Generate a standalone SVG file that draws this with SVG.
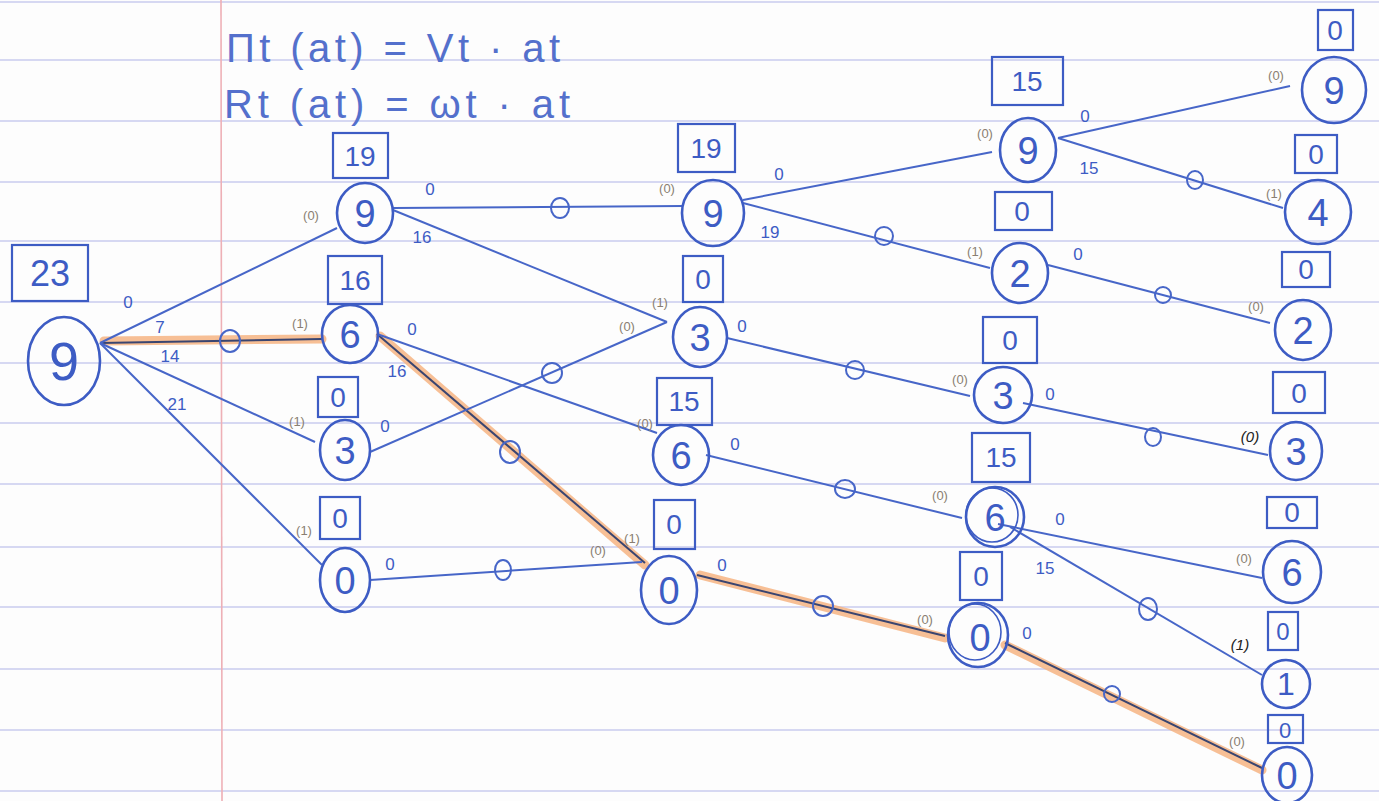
<svg xmlns="http://www.w3.org/2000/svg" width="1379" height="801" viewBox="0 0 1379 801">
<style>
.paper{stroke:#c9cbee;stroke-width:1.6}
.margin{stroke:#eeb0b6;stroke-width:1.6}
.nc{fill:none;stroke:#3d5cc4;stroke-width:2.6}
.bx{fill:none;stroke:#3d5cc4;stroke-width:2.2}
.e{fill:none;stroke:#4766c8;stroke-width:2}
.hl{fill:none;stroke:#f6b483;stroke-width:9;stroke-linecap:round;opacity:0.85}
.ed{fill:none;stroke:#3a4570;stroke-width:2}
.mk{fill:none;stroke:#4766c8;stroke-width:2}
.nt{font-family:"Liberation Sans",Arial,sans-serif;font-size:38px;fill:#3d5cc4;text-anchor:middle}
.bt{font-family:"Liberation Sans",Arial,sans-serif;font-size:28px;fill:#3d5cc4;text-anchor:middle}
.el{font-family:"Liberation Sans",Arial,sans-serif;font-size:17px;fill:#3d5cc4;text-anchor:middle}
.pl{font-family:"Liberation Sans",Arial,sans-serif;font-size:13px;fill:#8a7f72;text-anchor:middle}
.pk{font-family:"Liberation Sans",Arial,sans-serif;font-size:15px;fill:#222;text-anchor:middle;font-style:italic}
.eq{font-family:"Liberation Sans",Arial,sans-serif;font-size:40px;fill:#5470cc}
</style>
<rect x="0" y="0" width="1379" height="801" fill="#fdfdfd"/>
<g id="paper">
<line class="paper" x1="0" y1="2" x2="1379" y2="2"/>
<line class="paper" x1="0" y1="60" x2="1379" y2="60"/>
<line class="paper" x1="0" y1="121" x2="1379" y2="121"/>
<line class="paper" x1="0" y1="182" x2="1379" y2="182"/>
<line class="paper" x1="0" y1="241" x2="1379" y2="241"/>
<line class="paper" x1="0" y1="302" x2="1379" y2="302"/>
<line class="paper" x1="0" y1="363" x2="1379" y2="363"/>
<line class="paper" x1="0" y1="423" x2="1379" y2="423"/>
<line class="paper" x1="0" y1="484" x2="1379" y2="484"/>
<line class="paper" x1="0" y1="547" x2="1379" y2="547"/>
<line class="paper" x1="0" y1="607" x2="1379" y2="607"/>
<line class="paper" x1="0" y1="669" x2="1379" y2="669"/>
<line class="paper" x1="0" y1="730" x2="1379" y2="730"/>
<line class="paper" x1="0" y1="791" x2="1379" y2="791"/>
<line class="margin" x1="221" y1="0" x2="222" y2="801"/>
</g>
<g id="formulas">
<text class="eq" x="226" y="62" textLength="334" lengthAdjust="spacing">Πt (at) = Vt · at</text>
<text class="eq" x="224" y="118" textLength="346" lengthAdjust="spacing">Rt (at) = ωt · at</text>
</g>
<g id="connectors">
<line class="hl" x1="104" y1="341" x2="322" y2="339"/>
<line class="hl" x1="380" y1="336" x2="645" y2="565"/>
<line class="hl" x1="700" y1="575" x2="945" y2="638"/>
<line class="hl" x1="1005" y1="645" x2="1262" y2="770"/>
<line class="ed" x1="100" y1="343" x2="322" y2="339"/>
<line class="ed" x1="377" y1="334" x2="645" y2="563"/>
<line class="ed" x1="697" y1="575" x2="945" y2="636"/>
<line class="ed" x1="1005" y1="643" x2="1262" y2="768"/>
<line class="e" x1="100" y1="343" x2="337" y2="228"/>
<line class="e" x1="100" y1="343" x2="315" y2="442"/>
<line class="e" x1="100" y1="343" x2="322" y2="565"/>
<line class="e" x1="393" y1="208" x2="683" y2="206"/>
<line class="e" x1="393" y1="210" x2="667" y2="322"/>
<line class="e" x1="377" y1="334" x2="657" y2="433"/>
<line class="e" x1="370" y1="452" x2="667" y2="322"/>
<line class="e" x1="370" y1="580" x2="642" y2="562"/>
<line class="e" x1="743" y1="200" x2="992" y2="152"/>
<line class="e" x1="743" y1="203" x2="990" y2="268"/>
<line class="e" x1="727" y1="338" x2="970" y2="396"/>
<line class="e" x1="706" y1="455" x2="962" y2="518"/>
<line class="e" x1="1058" y1="138" x2="1290" y2="86"/>
<line class="e" x1="1058" y1="138" x2="1283" y2="208"/>
<line class="e" x1="1048" y1="265" x2="1270" y2="323"/>
<line class="e" x1="1023" y1="403" x2="1268" y2="455"/>
<line class="e" x1="998" y1="524" x2="1262" y2="578"/>
<line class="e" x1="1010" y1="527" x2="1262" y2="675"/>
<ellipse class="mk" cx="230" cy="341" rx="10" ry="11"/>
<ellipse class="mk" cx="560" cy="208" rx="9" ry="10"/>
<ellipse class="mk" cx="510" cy="452" rx="10" ry="11"/>
<ellipse class="mk" cx="552" cy="373" rx="10" ry="10"/>
<ellipse class="mk" cx="503" cy="570" rx="8" ry="10"/>
<ellipse class="mk" cx="884" cy="236" rx="9" ry="9"/>
<ellipse class="mk" cx="855" cy="370" rx="9" ry="9"/>
<ellipse class="mk" cx="845" cy="489" rx="10" ry="9"/>
<ellipse class="mk" cx="823" cy="606" rx="10" ry="10"/>
<ellipse class="mk" cx="1195" cy="180" rx="8" ry="9"/>
<ellipse class="mk" cx="1163" cy="295" rx="8" ry="8"/>
<ellipse class="mk" cx="1153" cy="437" rx="8" ry="9"/>
<ellipse class="mk" cx="1148" cy="609" rx="9" ry="11"/>
<ellipse class="mk" cx="1112" cy="694" rx="8" ry="8"/>
<text class="el" x="128" y="308">0</text>
<text class="el" x="160" y="333">7</text>
<text class="el" x="170" y="362">14</text>
<text class="el" x="177" y="410">21</text>
<text class="el" x="430" y="195">0</text>
<text class="el" x="422" y="243">16</text>
<text class="el" x="412" y="335">0</text>
<text class="el" x="397" y="377">16</text>
<text class="el" x="385" y="432">0</text>
<text class="el" x="390" y="570">0</text>
<text class="el" x="779" y="180">0</text>
<text class="el" x="770" y="238">19</text>
<text class="el" x="742" y="332">0</text>
<text class="el" x="735" y="450">0</text>
<text class="el" x="722" y="571">0</text>
<text class="el" x="1085" y="122">0</text>
<text class="el" x="1089" y="174">15</text>
<text class="el" x="1078" y="260">0</text>
<text class="el" x="1050" y="400">0</text>
<text class="el" x="1060" y="525">0</text>
<text class="el" x="1045" y="574">15</text>
<text class="el" x="1027" y="639">0</text>
<text class="pl" x="311" y="220">(0)</text>
<text class="pl" x="300" y="328">(1)</text>
<text class="pl" x="297" y="426">(1)</text>
<text class="pl" x="304" y="535">(1)</text>
<text class="pl" x="667" y="193">(0)</text>
<text class="pl" x="660" y="307">(1)</text>
<text class="pl" x="627" y="331">(0)</text>
<text class="pl" x="645" y="428">(0)</text>
<text class="pl" x="632" y="543">(1)</text>
<text class="pl" x="598" y="555">(0)</text>
<text class="pl" x="985" y="138">(0)</text>
<text class="pl" x="975" y="256">(1)</text>
<text class="pl" x="960" y="384">(0)</text>
<text class="pl" x="940" y="500">(0)</text>
<text class="pl" x="925" y="624">(0)</text>
<text class="pl" x="1276" y="80">(0)</text>
<text class="pl" x="1274" y="198">(1)</text>
<text class="pl" x="1256" y="311">(0)</text>
<text class="pk" x="1250" y="442">(0)</text>
<text class="pl" x="1244" y="563">(0)</text>
<text class="pk" x="1240" y="650">(1)</text>
<text class="pl" x="1237" y="746">(0)</text>
</g>
<g id="n0"><ellipse class="nc" cx="64" cy="361" rx="36" ry="44"/><text class="nt" x="64" y="380" style="font-size:54px">9</text><rect class="bx" x="12" y="245" width="76" height="56"/><text class="bt" x="50" y="286" style="font-size:36px">23</text></g>
<g id="n1a"><ellipse class="nc" cx="365" cy="213" rx="28" ry="30"/><text class="nt" x="365" y="227">9</text><rect class="bx" x="333" y="133" width="55" height="45"/><text class="bt" x="360" y="166">19</text></g>
<g id="n1b"><ellipse class="nc" cx="350" cy="334" rx="28" ry="29"/><text class="nt" x="350" y="348">6</text><rect class="bx" x="328" y="256" width="54" height="48"/><text class="bt" x="355" y="290">16</text></g>
<g id="n1c"><ellipse class="nc" cx="345" cy="450" rx="25" ry="30"/><text class="nt" x="345" y="464">3</text><rect class="bx" x="318" y="377" width="40" height="40"/><text class="bt" x="338" y="407">0</text></g>
<g id="n1d"><ellipse class="nc" cx="345" cy="580" rx="25" ry="32"/><text class="nt" x="345" y="594">0</text><rect class="bx" x="320" y="497" width="40" height="42"/><text class="bt" x="340" y="528">0</text></g>
<g id="n2a"><ellipse class="nc" cx="713" cy="213" rx="31" ry="33"/><text class="nt" x="713" y="227">9</text><rect class="bx" x="678" y="124" width="57" height="48"/><text class="bt" x="706" y="158">19</text></g>
<g id="n2b"><ellipse class="nc" cx="700" cy="337" rx="27" ry="30"/><text class="nt" x="700" y="351">3</text><rect class="bx" x="683" y="256" width="40" height="46"/><text class="bt" x="703" y="289">0</text></g>
<g id="n2c"><ellipse class="nc" cx="681" cy="455" rx="28" ry="30"/><text class="nt" x="681" y="469">6</text><rect class="bx" x="657" y="378" width="55" height="47"/><text class="bt" x="684" y="411">15</text></g>
<g id="n2d"><ellipse class="nc" cx="669" cy="590" rx="28" ry="34"/><text class="nt" x="669" y="604">0</text><rect class="bx" x="654" y="500" width="41" height="49"/><text class="bt" x="674" y="534">0</text></g>
<g id="n3a"><ellipse class="nc" cx="1028" cy="150" rx="28" ry="32"/><text class="nt" x="1028" y="164">9</text><rect class="bx" x="992" y="57" width="71" height="48"/><text class="bt" x="1027" y="91">15</text></g>
<g id="n3b"><ellipse class="nc" cx="1020" cy="273" rx="28" ry="30"/><text class="nt" x="1020" y="287">2</text><rect class="bx" x="995" y="192" width="57" height="38"/><text class="bt" x="1022" y="221">0</text></g>
<g id="n3c"><ellipse class="nc" cx="1003" cy="395" rx="29" ry="28"/><text class="nt" x="1003" y="409">3</text><rect class="bx" x="983" y="317" width="54" height="46"/><text class="bt" x="1010" y="350">0</text></g>
<g id="n3d"><ellipse class="nc" cx="995" cy="517" rx="29" ry="30"/><ellipse class="nc" cx="992" cy="515" rx="26" ry="27" style="stroke-width:1.6"/><text class="nt" x="995" y="531">6</text><rect class="bx" x="972" y="433" width="58" height="49"/><text class="bt" x="1001" y="467">15</text></g>
<g id="n3e"><ellipse class="nc" cx="978" cy="635" rx="30" ry="32"/><ellipse class="nc" cx="975" cy="632" rx="26" ry="28" style="stroke-width:1.6"/><text class="nt" x="980" y="651">0</text><rect class="bx" x="960" y="552" width="42" height="48"/><text class="bt" x="981" y="586">0</text></g>
<g id="n4a"><ellipse class="nc" cx="1334" cy="90" rx="32" ry="33"/><text class="nt" x="1334" y="104">9</text><rect class="bx" x="1318" y="10" width="35" height="40"/><text class="bt" x="1335" y="40">0</text></g>
<g id="n4b"><ellipse class="nc" cx="1318" cy="212" rx="33" ry="32"/><text class="nt" x="1318" y="226">4</text><rect class="bx" x="1295" y="135" width="42" height="38"/><text class="bt" x="1316" y="164">0</text></g>
<g id="n4c"><ellipse class="nc" cx="1303" cy="330" rx="28" ry="30"/><text class="nt" x="1303" y="344">2</text><rect class="bx" x="1282" y="252" width="48" height="35"/><text class="bt" x="1306" y="279">0</text></g>
<g id="n4d"><ellipse class="nc" cx="1296" cy="451" rx="26" ry="29"/><text class="nt" x="1296" y="465">3</text><rect class="bx" x="1273" y="372" width="52" height="41"/><text class="bt" x="1299" y="403">0</text></g>
<g id="n4e"><ellipse class="nc" cx="1292" cy="572" rx="29" ry="31"/><text class="nt" x="1292" y="586">6</text><rect class="bx" x="1267" y="497" width="50" height="31"/><text class="bt" x="1292" y="522">0</text></g>
<g id="n4f"><ellipse class="nc" cx="1286" cy="684" rx="24" ry="24"/><text class="nt" x="1286" y="695" style="font-size:32px">1</text><rect class="bx" x="1268" y="612" width="30" height="38"/><text class="bt" x="1283" y="640" style="font-size:24px">0</text></g>
<g id="n4g"><ellipse class="nc" cx="1287" cy="775" rx="25" ry="28"/><text class="nt" x="1287" y="789">0</text><rect class="bx" x="1268" y="715" width="35" height="28"/><text class="bt" x="1285" y="738" style="font-size:22px">0</text></g>
</svg>
